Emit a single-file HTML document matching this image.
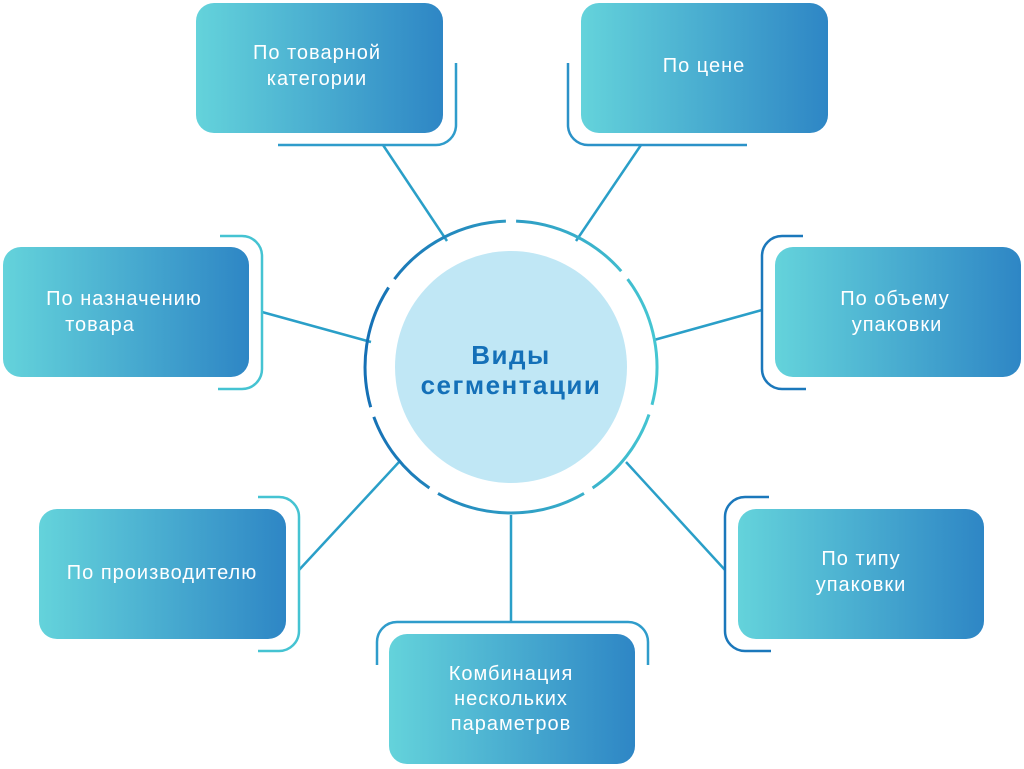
<!DOCTYPE html>
<html><head><meta charset="utf-8"><style>
html,body{margin:0;padding:0;background:#fff;}
svg{display:block;}
text{font-family:"Liberation Sans",sans-serif;}
</style></head><body>
<svg width="1024" height="769" viewBox="0 0 1024 769" xmlns="http://www.w3.org/2000/svg">
<defs>
<linearGradient id="bx" x1="0" y1="0" x2="1" y2="0">
<stop offset="0" stop-color="#64d3db"/><stop offset="1" stop-color="#2e86c5"/>
</linearGradient>
<linearGradient id="rg" gradientUnits="userSpaceOnUse" x1="365" y1="0" x2="657" y2="0">
<stop offset="0" stop-color="#1570b5"/><stop offset="1" stop-color="#45c6d2"/>
</linearGradient>
</defs>
<g stroke="#2a9fc8" stroke-width="2.5" fill="none">
<line x1="383" y1="145" x2="447" y2="241"/>
<line x1="641" y1="145" x2="576" y2="241"/>
<line x1="262" y1="312" x2="371" y2="342"/>
<line x1="762" y1="310" x2="654" y2="340"/>
<line x1="299" y1="570" x2="399" y2="462"/>
<line x1="725" y1="570" x2="626" y2="462"/>
<line x1="511" y1="622" x2="511" y2="515"/>
</g>
<g stroke-width="2.5" fill="none">
<path d="M278,145 H436 a20,20 0 0 0 20,-20 V63" stroke="#2f9ccb"/>
<path d="M747,145 H588 a20,20 0 0 1 -20,-20 V63" stroke="#2b92c8"/>
<path d="M220,236 H242 a20,20 0 0 1 20,20 V369 a20,20 0 0 1 -20,20 H218" stroke="#45c3d2"/>
<path d="M803,236 H782 a20,20 0 0 0 -20,20 V369 a20,20 0 0 0 20,20 H806" stroke="#1b78bb"/>
<path d="M258,497 H279 a20,20 0 0 1 20,20 V631 a20,20 0 0 1 -20,20 H258" stroke="#45c3d2"/>
<path d="M769,497 H745 a20,20 0 0 0 -20,20 V631 a20,20 0 0 0 20,20 H771" stroke="#1b78bb"/>
<path d="M377,665 V642 a20,20 0 0 1 20,-20 H628 a20,20 0 0 1 20,20 V665" stroke="#2f9ccb"/>
</g>
<g stroke="url(#rg)" stroke-width="3" fill="none">
<path d="M649,414.5 A146,146 0 0 1 592.6,488"/>
<path d="M584,493.4 A146,146 0 0 1 438,493.4"/>
<path d="M429.4,488 A146,146 0 0 1 373.8,416.9"/>
<path d="M370.7,407.2 A146,146 0 0 1 388.6,287.5"/>
<path d="M394.4,279.1 A146,146 0 0 1 505.9,221.1"/>
<path d="M516.1,221.1 A146,146 0 0 1 621.2,271.2"/>
<path d="M627.6,279.1 A146,146 0 0 1 652,404.8"/>
</g>
<circle cx="511" cy="367" r="116" fill="#c0e7f5"/>
<text x="511" y="364" text-anchor="middle" font-size="26" letter-spacing="1.5" font-weight="bold" fill="#1470b8">Виды</text>
<text x="511" y="394" text-anchor="middle" font-size="26" letter-spacing="1.5" font-weight="bold" fill="#1470b8">сегментации</text>
<g fill="url(#bx)">
<rect x="196" y="3" width="247" height="130" rx="18"/>
<rect x="581" y="3" width="247" height="130" rx="18"/>
<rect x="3" y="247" width="246" height="130" rx="18"/>
<rect x="775" y="247" width="246" height="130" rx="18"/>
<rect x="39" y="509" width="247" height="130" rx="18"/>
<rect x="738" y="509" width="246" height="130" rx="18"/>
<rect x="389" y="634" width="246" height="130" rx="18"/>
</g>
<g fill="#fff" font-size="20" letter-spacing="1" text-anchor="middle">
<text x="317" y="59">По товарной</text><text x="317" y="85">категории</text>
<text x="704" y="72">По цене</text>
<text x="124" y="305">По назначению</text><text x="100" y="331">товара</text>
<text x="895" y="305">По объему</text><text x="897" y="331">упаковки</text>
<text x="162" y="579">По производителю</text>
<text x="861" y="565">По типу</text><text x="861" y="591">упаковки</text>
<text x="511" y="680">Комбинация</text><text x="511" y="705">нескольких</text><text x="511" y="730">параметров</text>
</g>
</svg>
</body></html>
